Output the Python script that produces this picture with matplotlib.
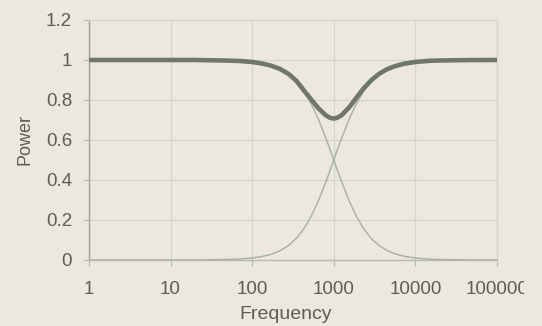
import matplotlib
matplotlib.use("Agg")
import matplotlib.pyplot as plt
from matplotlib.patches import Rectangle

freq = [1, 2, 5, 10, 20, 50, 70, 100, 130, 170, 220, 280, 350, 430, 530, 650, 800, 900, 1000,
        1100, 1250, 1550, 1900, 2300, 2900, 3600, 4500, 5700, 7200, 10000, 15000, 20000, 50000, 100000]
lowpass = [1.0, 1.0, 1.0, 1.0, 1.0, 0.997, 0.995, 0.99, 0.983, 0.972, 0.954, 0.927, 0.891, 0.844,
           0.781, 0.703, 0.61, 0.552, 0.50, 0.452, 0.39, 0.294, 0.217, 0.159, 0.106, 0.072, 0.047,
           0.03, 0.019, 0.01, 0.004, 0.0025, 0.0004, 0.0001]
highpass = [0.0, 0.0, 0.0, 0.0, 0.0, 0.003, 0.005, 0.01, 0.017, 0.028, 0.046, 0.073, 0.109, 0.156,
            0.219, 0.297, 0.39, 0.448, 0.50, 0.548, 0.61, 0.706, 0.783, 0.841, 0.894, 0.928, 0.953,
            0.97, 0.981, 0.99, 0.996, 0.9975, 0.9996, 0.9999]
total = [1.0, 1.0, 1.0, 1.0, 1.0, 0.997, 0.995, 0.99, 0.983, 0.972, 0.955, 0.93, 0.895, 0.848,
         0.802, 0.758, 0.723, 0.711, 0.707, 0.711, 0.724, 0.764, 0.812, 0.856, 0.90, 0.931, 0.954,
         0.97, 0.981, 0.99, 0.996, 0.9975, 0.9996, 0.9999]

xticks = [1, 10, 100, 1000, 10000, 100000]
xticklabels = ["1", "10", "100", "1000", "10000", "100000"]
yticks = [0, 0.2, 0.4, 0.6, 0.8, 1.0, 1.2]
yticklabels = ["0", "0.2", "0.4", "0.6", "0.8", "1", "1.2"]

bg = "#ece8e1"
txt = "#5c5d55"
plt.rcParams['font.family'] = ['Liberation Sans', 'DejaVu Sans']

fig = plt.figure(figsize=(5.42, 3.26), dpi=100, facecolor=bg)
ax = fig.add_axes([0.164, 0.2025, 0.753, 0.7362])
ax.set_facecolor(bg)

ax.plot(freq, lowpass, color="#a7b09d", lw=1.0, zorder=3)
ax.plot(freq, highpass, color="#a7b09d", lw=1.0, zorder=3)
ax.plot(freq, total, color="#70776a", lw=3.3, zorder=4, solid_capstyle="butt")

ax.set_xscale("log")
ax.set_xlim(1, 100000)
ax.set_ylim(0, 1.2)
ax.set_xticks(xticks)
ax.set_xticklabels(xticklabels)
ax.minorticks_off()
ax.set_yticks(yticks)
ax.set_yticklabels(yticklabels)
ax.grid(True, color="#d2d7ca", lw=0.9)
ax.set_axisbelow(True)
for s in ["top", "right"]:
    ax.spines[s].set_color("#d2d7ca")
    ax.spines[s].set_linewidth(0.9)
ax.spines["left"].set_color("#a59c94")
ax.spines["bottom"].set_color("#b5baad")
ax.spines["left"].set_linewidth(1.0)
ax.spines["bottom"].set_linewidth(1.0)
ax.tick_params(axis="both", length=4, width=0.8, color="#b5baad", labelsize=13.5,
               labelcolor=txt)
ax.tick_params(axis="y", pad=8)
ax.tick_params(axis="x", pad=11)
ax.set_xlabel("Frequency", fontsize=14, color=txt, labelpad=6)
ax.xaxis.label.set_x(0.483)
ax.set_ylabel("Power", fontsize=13, color=txt, labelpad=9)

# scanned page edge cuts off the last tick label
fig.patches.append(Rectangle((0.967, 0.0), 0.04, 0.2, transform=fig.transFigure,
                             facecolor=bg, edgecolor="none", zorder=10))

fig.savefig("out.png", dpi=100, facecolor=bg)
